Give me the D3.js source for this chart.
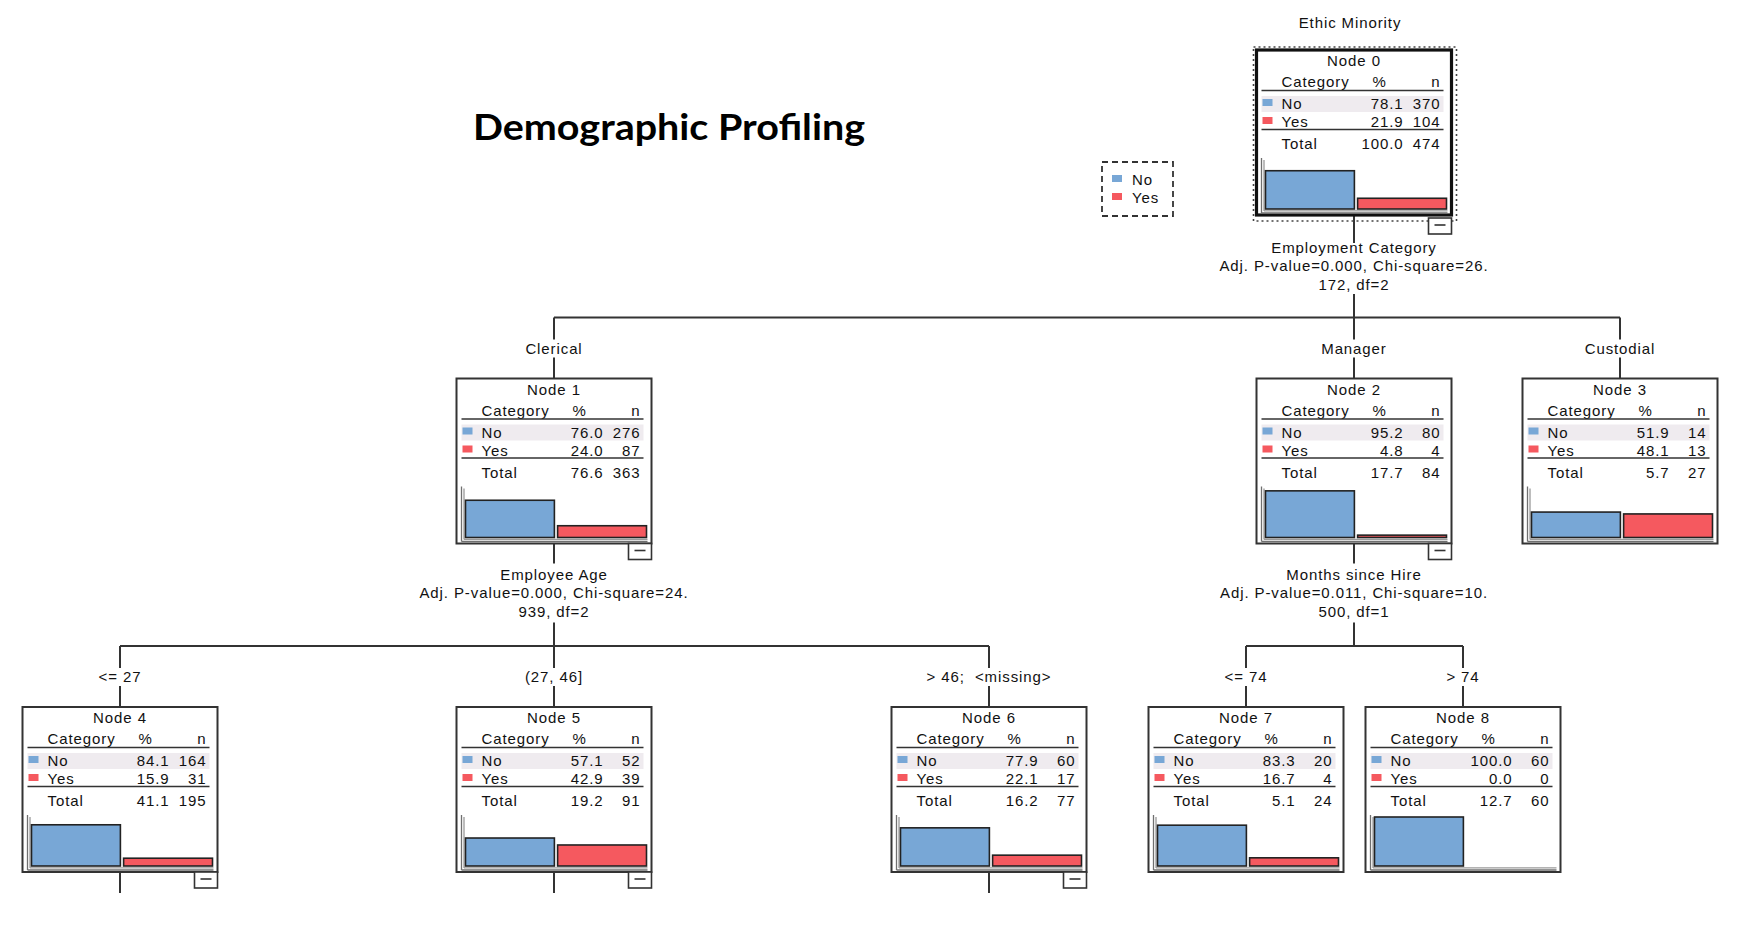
<!DOCTYPE html>
<html>
<head>
<meta charset="utf-8">
<script src="https://cdn.jsdelivr.net/npm/d3@7"></script>
<style>
  body { margin: 0; background: #fff; }
  text { font-family: "Liberation Sans", Arial, sans-serif; font-size: 15px; letter-spacing: 0.9px; fill: #111; white-space: pre; }
  .title { font-family: Lato, "Open Sans", sans-serif; font-weight: 700; font-size: 37px; letter-spacing: 0; fill: #000; }
</style>
</head>
<body>
<svg id="chart" width="1746" height="926"></svg>
<script>
// ---- tree data
const nodeIds      = [0, 1, 2, 3, 4, 5, 6, 7, 8];
const parentIds    = [null, 0, 0, 0, 1, 1, 1, 2, 2];
const branchLabels = ["", "Clerical", "Manager", "Custodial", "<= 27", "(27, 46]", "> 46;  <missing>", "<= 74", "> 74"];
const categories   = ["No", "Yes"];
const noPct    = [78.1, 76.0, 95.2, 51.9, 84.1, 57.1, 77.9, 83.3, 100.0];
const noN      = [370, 276, 80, 14, 164, 52, 60, 20, 60];
const yesPct   = [21.9, 24.0, 4.8, 48.1, 15.9, 42.9, 22.1, 16.7, 0.0];
const yesN     = [104, 87, 4, 13, 31, 39, 17, 4, 0];
const totalPct = [100.0, 76.6, 17.7, 5.7, 41.1, 19.2, 16.2, 5.1, 12.7];
const totalN   = [474, 363, 84, 27, 195, 91, 77, 24, 60];
const hasChildren = [true, true, true, false, true, true, true, false, false];
const splitNodes     = [0, 1, 2];
const splitVariables = ["Employment Category", "Employee Age", "Months since Hire"];
const splitStats     = ["Adj. P-value=0.000, Chi-square=26.", "Adj. P-value=0.000, Chi-square=24.", "Adj. P-value=0.011, Chi-square=10."];
const splitStatsEnd  = ["172, df=2", "939, df=2", "500, df=1"];
const targetName = "Ethic Minority";
const chartTitle = "Demographic Profiling";

// ---- layout
const boxW = 195, boxH = 165;
const colors = d3.scaleOrdinal().domain(categories).range(["#78a7d6", "#f5595f"]);
// SPSS tree viewer column of each node (centre x)
const xNode = d3.scaleOrdinal().domain(nodeIds).range([1354, 554, 1354, 1620, 120, 554, 989, 1246, 1463]);
const yDepth = d3.scaleLinear().domain([0, 2]).range([50, 707]);
const barY = d3.scaleLinear().domain([0, 100]).range([159, 110]);
const barX = d3.scaleBand().domain(categories).range([9, 190]).paddingInner(0.035);

const root = d3.stratify()
  .id(d => String(d.id))
  .parentId(d => d.parent == null ? null : String(d.parent))(
    nodeIds.map(i => ({
      id: i, parent: parentIds[i], label: branchLabels[i],
      rows: [
        { cat: "No", pct: noPct[i], n: noN[i] },
        { cat: "Yes", pct: yesPct[i], n: yesN[i] }
      ],
      totalPct: totalPct[i], totalN: totalN[i], more: hasChildren[i]
    })));

const svg = d3.select("#chart");
const nodes = root.descendants();
nodes.forEach(d => { d.cx = xNode(d.data.id); d.top = yDepth(d.depth); d.x0 = d.cx - boxW / 2; });

// title + target name
svg.append("text").attr("class", "title")
  .attr("x", 473).attr("y", 140)
  .attr("textLength", 392).attr("lengthAdjust", "spacingAndGlyphs")
  .text(chartTitle);
svg.append("text").attr("x", 1350).attr("y", 28).attr("text-anchor", "middle").text(targetName);

// legend
const leg = svg.append("g").attr("transform", "translate(1102,162)");
leg.append("rect").attr("width", 71).attr("height", 54)
  .attr("fill", "none").attr("stroke", "#333").attr("stroke-width", 1.8).attr("stroke-dasharray", "6,4");
leg.selectAll("g.item").data(categories).join("g").attr("class", "item")
  .attr("transform", (d, i) => `translate(0,${18 + i * 18})`)
  .call(g => {
    g.append("rect").attr("x", 10).attr("y", -5).attr("width", 10).attr("height", 7).attr("fill", d => colors(d));
    g.append("text").attr("x", 30).attr("y", 5).text(d => d);
  });

const lineCol = "#333";
const links = svg.append("g").attr("stroke", lineCol).attr("stroke-width", 2).attr("fill", "none");

// split descriptions + connectors
nodes.filter(d => d.children).forEach(p => {
  const k = splitNodes.indexOf(p.data.id);
  const bottom = p.top + boxH;
  const busY = yDepth(p.depth + 1) - 61;
  links.append("line").attr("x1", p.cx).attr("x2", p.cx).attr("y1", bottom).attr("y2", bottom + 20 + (p.depth === 0 ? 8 : 0));
  links.append("line").attr("x1", p.cx).attr("x2", p.cx).attr("y1", bottom + 79).attr("y2", busY);
  const ext = d3.extent(p.children, c => c.cx);
  links.append("line").attr("x1", ext[0]).attr("x2", ext[1]).attr("y1", busY).attr("y2", busY);
  const off = p.depth === 0 ? 2 : 0;
  [splitVariables[k], splitStats[k], splitStatsEnd[k]].forEach((t, j) => {
    svg.append("text").attr("x", p.cx).attr("y", bottom + off + [36, 54, 73][j])
      .attr("text-anchor", "middle").text(t);
  });
  p.children.forEach(c => {
    links.append("line").attr("x1", c.cx).attr("x2", c.cx).attr("y1", busY).attr("y2", busY + 22);
    links.append("line").attr("x1", c.cx).attr("x2", c.cx).attr("y1", busY + 40).attr("y2", c.top);
    svg.append("text").attr("x", c.cx).attr("y", busY + 36).attr("text-anchor", "middle").text(c.data.label);
  });
});

// node boxes
const g = svg.selectAll("g.node").data(nodes).join("g").attr("class", "node")
  .attr("transform", d => `translate(${d.x0},${d.top})`);

g.filter(d => d.depth === 0).append("rect")
  .attr("x", -3).attr("y", -3).attr("width", boxW + 8).attr("height", boxH + 9)
  .attr("fill", "none").attr("stroke", "#444").attr("stroke-width", 1.6).attr("stroke-dasharray", "2,3");

g.append("rect").attr("width", boxW).attr("height", boxH)
  .attr("fill", "#fff")
  .attr("stroke", d => d.depth === 0 ? "#111" : lineCol)
  .attr("stroke-width", d => d.depth === 0 ? 3.2 : 2);

g.append("text").attr("x", boxW / 2).attr("y", 16).attr("text-anchor", "middle").text(d => "Node " + d.data.id);
g.append("text").attr("x", 25).attr("y", 37).text("Category");
g.append("text").attr("x", 123).attr("y", 37).attr("text-anchor", "middle").text("%");
g.append("text").attr("x", 184).attr("y", 37).attr("text-anchor", "end").text("n");
g.append("rect").attr("x", 5).attr("y", 46).attr("width", 182).attr("height", 16).attr("fill", "#efebef");
g.append("line").attr("x1", 5).attr("x2", 187).attr("y1", 40.5).attr("y2", 40.5).attr("stroke", lineCol).attr("stroke-width", 1.6);
g.append("line").attr("x1", 5).attr("x2", 187).attr("y1", 79.5).attr("y2", 79.5).attr("stroke", lineCol).attr("stroke-width", 1.6);

const row = g.selectAll("g.row").data(d => d.data.rows).join("g").attr("class", "row")
  .attr("transform", (r, i) => `translate(0,${54 + i * 18})`);
row.append("rect").attr("x", 6).attr("y", -5).attr("width", 10).attr("height", 7).attr("fill", r => colors(r.cat));
row.append("text").attr("x", 25).attr("y", 5).text(r => r.cat);
row.append("text").attr("x", 147).attr("y", 5).attr("text-anchor", "end").text(r => r.pct.toFixed(1));
row.append("text").attr("x", 184).attr("y", 5).attr("text-anchor", "end").text(r => r.n);

g.append("text").attr("x", 25).attr("y", 99).text("Total");
g.append("text").attr("x", 147).attr("y", 99).attr("text-anchor", "end").text(d => d.data.totalPct.toFixed(1));
g.append("text").attr("x", 184).attr("y", 99).attr("text-anchor", "end").text(d => d.data.totalN);

// bar chart inside node
const axisCol = "#6f6f6f";
g.append("line").attr("x1", 5).attr("x2", 5).attr("y1", 108).attr("y2", 163).attr("stroke", axisCol).attr("stroke-width", 1.3);
g.append("line").attr("x1", 7.5).attr("x2", 7.5).attr("y1", 110).attr("y2", 161).attr("stroke", "#9a9a9a").attr("stroke-width", 1.3);
g.append("line").attr("x1", 5).attr("x2", 191).attr("y1", 163).attr("y2", 163).attr("stroke", axisCol).attr("stroke-width", 1.3);
g.append("line").attr("x1", 7.5).attr("x2", 191).attr("y1", 160.8).attr("y2", 160.8).attr("stroke", "#9a9a9a").attr("stroke-width", 1.3);
g.selectAll("rect.bar").data(d => d.data.rows).join("rect").attr("class", "bar")
  .attr("x", r => barX(r.cat)).attr("width", barX.bandwidth())
  .attr("y", r => barY(r.pct)).attr("height", r => barY(0) - barY(r.pct))
  .attr("fill", r => colors(r.cat)).attr("stroke", "#222").attr("stroke-width", 1.6);

// collapse buttons and stubs for nodes with children
const more = g.filter(d => d.data.more);
more.filter(d => !d.children).append("line")
  .attr("x1", boxW / 2).attr("x2", boxW / 2).attr("y1", boxH).attr("y2", boxH + 21)
  .attr("stroke", lineCol).attr("stroke-width", 2);
more.append("rect").attr("x", boxW - 23).attr("y", d => boxH + (d.depth === 0 ? 3 : 0)).attr("width", 23).attr("height", 16)
  .attr("fill", "#fff").attr("stroke", lineCol).attr("stroke-width", 1.6);
more.append("line").attr("x1", boxW - 17).attr("x2", boxW - 6)
  .attr("y1", d => boxH + 7 + (d.depth === 0 ? 3 : 0)).attr("y2", d => boxH + 7 + (d.depth === 0 ? 3 : 0))
  .attr("stroke", lineCol).attr("stroke-width", 1.6);
</script>
</body>
</html>
